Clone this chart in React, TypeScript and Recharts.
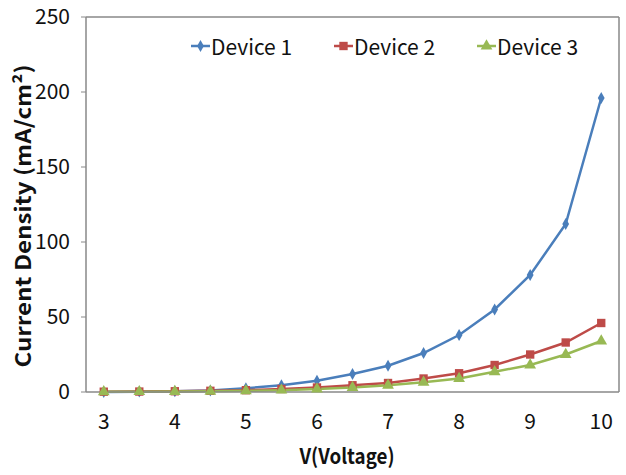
import { LineChart, Line, XAxis, YAxis, Symbols, ReferenceLine } from 'recharts';

const voltage = [3, 3.5, 4, 4.5, 5, 5.5, 6, 6.5, 7, 7.5, 8, 8.5, 9, 9.5, 10];
const device1 = [0, 0.2, 0.5, 1, 2.5, 4.5, 7.5, 12, 17.5, 26, 38, 55, 78, 112, 196];
const device2 = [0.2, 0.3, 0.5, 0.8, 1.2, 2, 3, 4.5, 6, 9, 12.5, 18, 25, 33, 46];
const device3 = [0.1, 0.2, 0.3, 0.5, 0.8, 1.2, 2, 3, 4.5, 6.5, 9, 13.5, 18, 25, 34];
const xTicks = [3, 4, 5, 6, 7, 8, 9, 10];
const yTicks = [0, 50, 100, 150, 200, 250];

const data = voltage.map((v, i) => ({ v, d1: device1[i], d2: device2[i], d3: device3[i] }));

const FONT = '"Noto Sans CJK KR", "Noto Sans", sans-serif';
const AXIS = '#888';

const series = [
    { key: 'd1', name: 'Device 1', color: '#4A7EBB', shape: 'diamond', size: 40 },
    { key: 'd2', name: 'Device 2', color: '#BE4B48', shape: 'square', size: 70 },
    { key: 'd3', name: 'Device 3', color: '#98B954', shape: 'triangle', size: 60 },
];

const makeDot = (color: string, shape: any, size: number) => (props: any) => {
    const { cx, cy, index } = props;
    if (cx == null || cy == null) return <g key={index} />;
    return <Symbols key={index} cx={cx} cy={cy} type={shape} size={size} fill={color} stroke="none" />;
};

const LegendBox = () => (
    <div style={{ position: 'absolute', left: 0, top: 33, width: 626, height: 26, fontFamily: FONT, fontSize: 21, color: '#111' }}>
        {series.map((s, i) => (
            <div key={s.key} style={{ position: 'absolute', left: [190, 333, 476][i], top: 0, display: 'flex', alignItems: 'center', lineHeight: '26px' }}>
                <svg width={21} height={22}>
                    <line x1={1} y1={11} x2={20} y2={11} stroke={s.color} strokeWidth={2.5} />
                    <Symbols cx={10.5} cy={11} type={s.shape as any} size={s.size} fill={s.color} />
                </svg>
                <span>{s.name}</span>
            </div>
        ))}
    </div>
);

const XTitle = () => (
    <text x={347} y={464} textAnchor="middle" fontFamily={FONT} fontSize={21} fontWeight="bold" fill="#111"
        textLength={95} lengthAdjust="spacingAndGlyphs">V(Voltage)</text>
);

const YTitle = () => (
    <text x={0} y={0} transform="translate(31, 216) rotate(-90)" textAnchor="middle" fontFamily={FONT} fontSize={21}
        fontWeight="bold" fill="#111" textLength={303} lengthAdjust="spacingAndGlyphs">Current Density (mA/cm²)</text>
);

export default function App() {
    return (
        <div style={{ position: 'absolute', left: 0, top: 0, width: 626, height: 475, background: '#fff' }}>
            <LineChart width={626} height={475} data={data} margin={{ top: 17, right: 7, bottom: 0, left: 0 }}>
                <XAxis
                    dataKey="v"
                    type="number"
                    domain={[2.75, 10.25]}
                    ticks={xTicks}
                    height={83}
                    tick={{ fill: '#111', fontSize: 21, fontFamily: FONT }}
                    tickLine={false}
                    tickSize={0}
                    tickMargin={22}
                    axisLine={{ stroke: AXIS, strokeWidth: 1.5 }}
                    label={<XTitle />}
                />
                <YAxis
                    domain={[0, 250]}
                    ticks={yTicks}
                    width={86}
                    tick={{ fill: '#111', fontSize: 21, fontFamily: FONT }}
                    tickLine={{ stroke: AXIS }}
                    tickSize={5}
                    tickMargin={11}
                    axisLine={{ stroke: AXIS, strokeWidth: 1.5 }}
                    label={<YTitle />}
                />
                <ReferenceLine y={250} stroke={AXIS} strokeWidth={1.5} ifOverflow="visible" />
                <ReferenceLine x={10.25} stroke={AXIS} strokeWidth={1.5} ifOverflow="visible" />
                {series.map((s) => (
                    <Line
                        key={s.key}
                        type="linear"
                        dataKey={s.key}
                        name={s.name}
                        stroke={s.color}
                        strokeWidth={2.5}
                        dot={makeDot(s.color, s.shape, s.size)}
                        activeDot={false}
                        isAnimationActive={false}
                    />
                ))}
            </LineChart>
            <LegendBox />
        </div>
    );
}
